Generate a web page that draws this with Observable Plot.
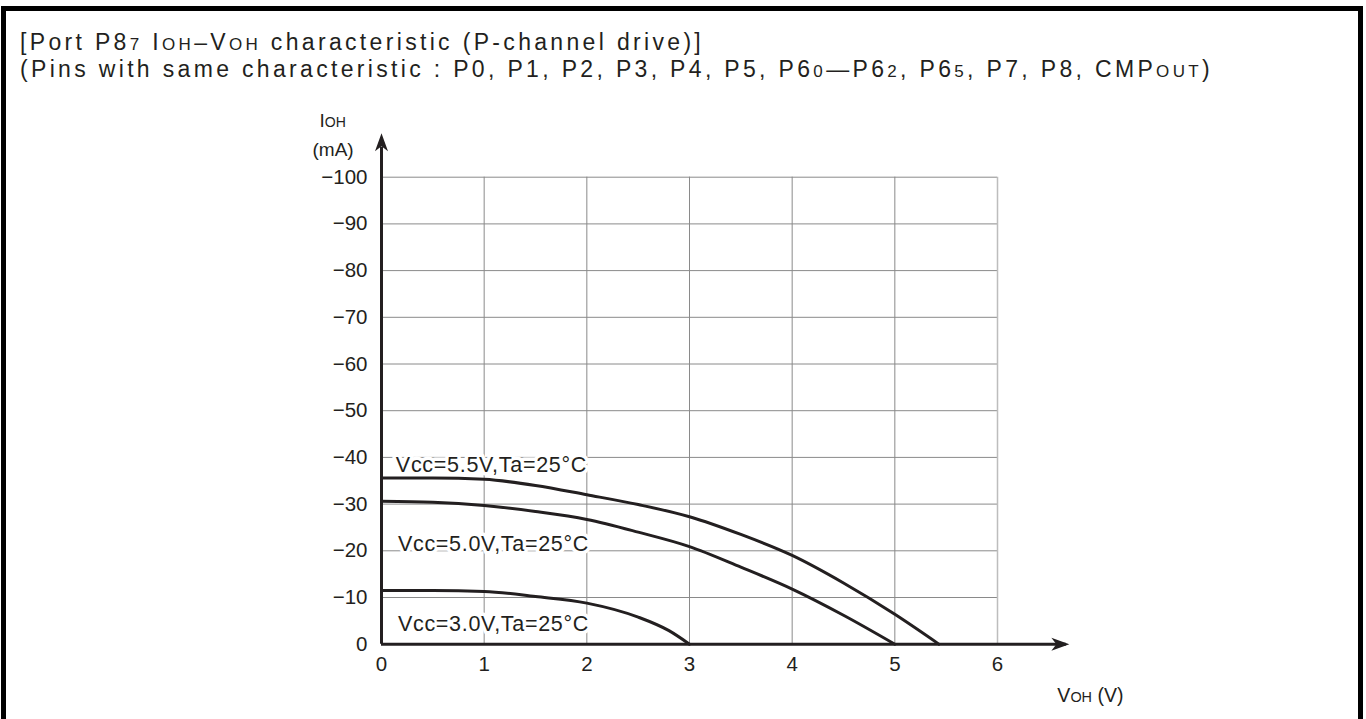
<!DOCTYPE html>
<html>
<head>
<meta charset="utf-8">
<script src="https://cdn.jsdelivr.net/npm/d3@7"></script>
<script src="https://cdn.jsdelivr.net/npm/@observablehq/plot@0.6"></script>
<style>
  html, body { margin: 0; padding: 0; background: #fff; }
  #page { position: relative; width: 1366px; height: 719px; overflow: hidden; font-family: "Liberation Sans", Arial, sans-serif; color: #231f20; }
  #frame { position: absolute; left: 1px; top: 6px; width: 1362px; height: 800px; box-sizing: border-box; border: 5px solid #000; border-bottom: none; }
  .tl { position: absolute; left: 20px; font-size: 23px; white-space: nowrap; }
  .sm { font-size: 0.74em; }
  #chart { position: absolute; left: 0; top: 100px; }
</style>
</head>
<body>
<div id="page">
  <div id="frame"></div>
  <div class="tl" id="t1" style="top:29px">[Port P8<span class="sm">7</span> I<span class="sm">OH</span>–V<span class="sm">OH</span> characteristic (P-channel drive)]</div>
  <div class="tl" id="t2" style="top:56px">(Pins with same characteristic : P0, P1, P2, P3, P4, P5, P6<span class="sm">0</span>—P6<span class="sm">2</span>, P6<span class="sm">5</span>, P7, P8, CMP<span class="sm">OUT</span>)</div>
  <div id="chart"></div>
</div>
<script>
// ---- data (VOH in volts, IOH in mA) ----
const vcc55_v = [0, 0.5, 1, 1.5, 2, 2.5, 3, 3.5, 4, 4.5, 5, 5.43];
const vcc55_i = [-35.6, -35.6, -35.3, -34.0, -32.0, -29.9, -27.3, -23.5, -19.0, -13.1, -6.4, 0];
const vcc50_v = [0, 0.5, 1, 1.5, 2, 2.5, 3, 3.5, 4, 4.5, 5];
const vcc50_i = [-30.6, -30.4, -29.7, -28.4, -26.7, -24.0, -20.9, -16.5, -11.8, -6.2, 0];
const vcc30_v = [0, 0.5, 1, 1.5, 2, 2.5, 2.8, 3];
const vcc30_i = [-11.5, -11.5, -11.3, -10.2, -8.8, -5.8, -2.9, 0];

const seriesNames = ["Vcc=5.5V,Ta=25°C", "Vcc=5.0V,Ta=25°C", "Vcc=3.0V,Ta=25°C"];
const labelV = [0.14, 0.16, 0.16];
const labelI = [-38.3, -21.4, -4.3];

const xTicks = [0, 1, 2, 3, 4, 5, 6];
const yTicks = [0, -10, -20, -30, -40, -50, -60, -70, -80, -90, -100];
const xAxisEnd = 6.7;
const yAxisEnd = -109.4;
const xTitle = "V{OH} (V)";
const yTitle1 = "I{OH}";
const yTitle2 = "(mA)";

// ---- build tables ----
const toRows = (name, vs, is) => vs.map((v, k) => ({series: name, v, i: is[k]}));
const curves = [
  ...toRows(seriesNames[0], vcc55_v, vcc55_i),
  ...toRows(seriesNames[1], vcc50_v, vcc50_i),
  ...toRows(seriesNames[2], vcc30_v, vcc30_i)
];
const labels = seriesNames.map((t, k) => ({t, v: labelV[k], i: labelI[k]}));

const ink = "#231f20";
const arrowHead = {
  draw(ctx) {
    ctx.moveTo(0, 0);
    ctx.lineTo(6.5, 18);
    ctx.lineTo(0, 13);
    ctx.lineTo(-6.5, 18);
    ctx.closePath();
  }
};

const chart = Plot.plot({
  width: 1366,
  height: 619,
  marginLeft: 381,
  marginRight: 369,
  marginTop: 76.7,
  marginBottom: 75.3,
  style: {fontFamily: "'Liberation Sans', Arial, sans-serif", fontSize: "20px", color: ink, background: "transparent", overflow: "visible"},
  x: {domain: [0, 6], axis: null},
  y: {domain: [0, -100], axis: null},
  marks: [
    // grid
    Plot.ruleY(yTicks.filter(d => d !== 0), {x1: 0, x2: 6, stroke: "#8a8a8a", strokeWidth: 1}),
    Plot.ruleX(xTicks.filter(d => d > 0 && d < 6), {y1: 0, y2: -100, stroke: "#8a8a8a", strokeWidth: 1}),
    Plot.ruleX([6], {y1: 0, y2: -100, stroke: "#bdbdbd", strokeWidth: 1.5}),
    // curve labels with white halo
    Plot.text(labels, {x: "v", y: "i", text: "t", textAnchor: "start", fill: ink, stroke: "white", strokeWidth: 7, fontSize: 21.5}),
    // curves
    Plot.line(curves, {x: "v", y: "i", z: "series", curve: "monotone-x", stroke: ink, strokeWidth: 3}),
    // tick labels
    Plot.axisY({ticks: yTicks, label: null, tickSize: 0, tickPadding: 14, tickFormat: d => d === 0 ? "0" : "\u2212" + Math.abs(d), fontSize: 20.5, fill: ink}),
    Plot.axisX({ticks: xTicks, label: null, tickSize: 0, tickPadding: 12, tickFormat: d => String(d), fontSize: 20.5, fill: ink}),
    // axis lines with arrow heads
    Plot.ruleX([0], {y1: 0, y2: yAxisEnd + 3, stroke: ink, strokeWidth: 3}),
    Plot.ruleY([0], {x1: 0, x2: xAxisEnd - 0.03, stroke: ink, strokeWidth: 3}),
    Plot.dot([{v: 0, i: yAxisEnd}], {x: "v", y: "i", symbol: arrowHead, fill: ink, stroke: null, r: 5}),
    Plot.dot([{v: xAxisEnd, i: 0}], {x: "v", y: "i", symbol: arrowHead, rotate: 90, fill: ink, stroke: null, r: 5}),
    // axis titles
    Plot.text([yTitle1], {x: () => 0, y: () => yAxisEnd, text: d => d, textAnchor: "start", dx: -62, dy: -12, fill: ink, fontSize: 19}),
    Plot.text([yTitle2], {x: () => 0, y: () => yAxisEnd, text: d => d, textAnchor: "start", dx: -69, dy: 17, fill: ink, fontSize: 19}),
    Plot.text([xTitle], {x: () => xAxisEnd, y: () => 0, text: d => d, textAnchor: "start", dx: -12, dy: 52, fill: ink, fontSize: 19.5})
  ]
});

// render {..} segments as smaller capitals; widen curve labels slightly
d3.select(chart).selectAll("text").each(function() {
  const el = this;
  const txt = el.textContent;
  if (seriesNames.includes(txt)) { el.style.letterSpacing = "0.7px"; return; }
  if (!txt.includes("{")) return;
  const parts = txt.split(/(\{[^}]*\})/).filter(s => s.length);
  el.textContent = "";
  for (const p of parts) {
    const ts = document.createElementNS("http://www.w3.org/2000/svg", "tspan");
    if (p.startsWith("{")) { ts.textContent = p.slice(1, -1); ts.setAttribute("font-size", "0.74em"); }
    else ts.textContent = p;
    el.appendChild(ts);
  }
});

document.getElementById("chart").appendChild(chart);

// widen the heading's spacing so that its second line spans the same width as the reference
(function fitTitle() {
  const t1 = document.getElementById("t1"), t2 = document.getElementById("t2");
  const target = 1193;
  const w = t2.getBoundingClientRect().width;
  const n = t2.textContent.length;
  const ls = Math.max(0, (target - w) / n);
  t1.style.letterSpacing = ls + "px";
  t2.style.letterSpacing = ls + "px";
})();
</script>
</body>
</html>
